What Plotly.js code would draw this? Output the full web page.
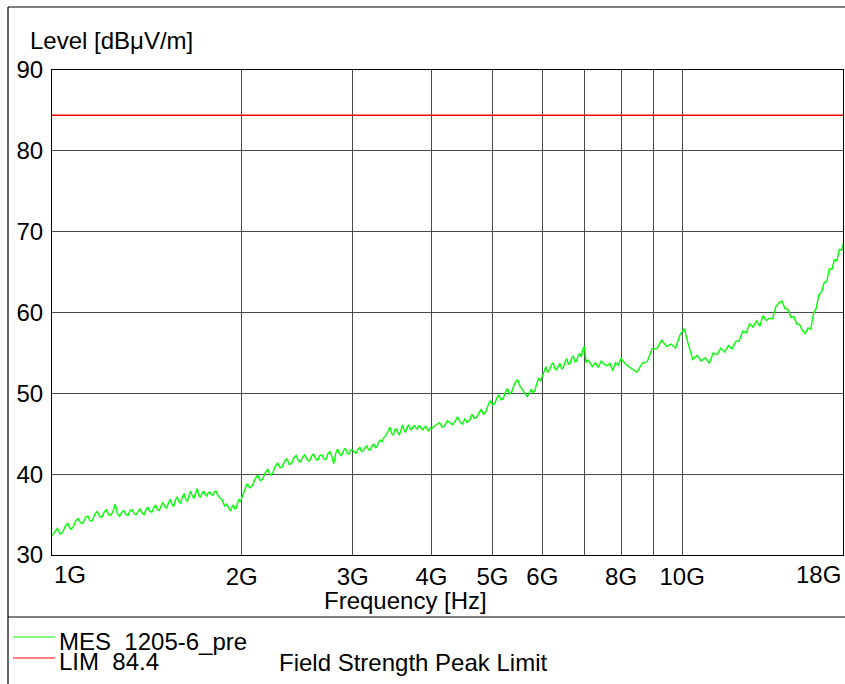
<!DOCTYPE html>
<html>
<head>
<meta charset="utf-8">
<script src="https://cdn.plot.ly/plotly-3.0.1.min.js"></script>
<style>
  html, body { margin: 0; padding: 0; background: #fff; }
  #chart { width: 845px; height: 684px; }
</style>
</head>
<body>
<div id="chart"></div>
<script>
// ---- Data (frequency in MHz, level in dBµV/m) ----
const freqBand1 = [
  1000,1010,1020,1030,1040,1050,1060,1070,1080,1090,
  1100,1110,1120,1130,1140,1150,1160,1170,1180,1190,
  1200,1210,1220,1230,1240,1250,1260,1270,1280,1290,
  1300,1310,1320,1330,1340,1350,1360,1370,1380,1390,
  1400,1410,1420,1430,1440,1450,1460,1470,1480,1490,
  1500,1510,1520,1530,1540,1550,1560,1570,1580,1590,
  1600,1610,1620,1630,1640,1650,1660,1670,1680,1690,
  1700,1710,1720,1730,1740,1750,1760,1770,1780,1790,
  1800,1810,1820,1830,1840,1850,1860,1870,1880,1890,
  1900,1910,1920,1930,1940,1950,1960,1970,1980,1990,
  2000
];
const levelBand1 = [
  32.4,32.9,33.3,32.6,32.8,33.6,33.9,33.2,33.4,34.2,
  34.5,34.0,33.9,34.7,34.8,34.2,34.3,35.1,35.4,34.8,
  34.7,35.3,35.6,35.0,34.9,35.4,36.3,35.1,34.8,35.3,
  35.5,35.0,34.9,35.5,35.6,35.1,35.0,35.4,35.7,35.2,
  35.0,35.6,35.9,35.4,35.3,35.8,36.2,35.6,35.5,36.1,
  36.5,36.0,35.8,36.4,36.9,36.3,36.0,36.8,37.2,36.6,
  36.4,37.1,37.6,36.9,36.6,37.4,37.9,37.3,37.0,37.6,
  38.2,37.4,37.1,37.6,37.9,37.5,37.3,37.7,37.8,37.5,
  37.4,37.8,37.9,37.5,37.2,37.0,36.9,36.4,36.0,36.3,
  36.1,35.7,35.5,35.9,36.2,35.7,35.8,36.4,36.9,36.6,
  37.0
];
const freqBand2 = [
  2020,2040,2060,2080,2100,2120,2140,2160,2180,2200,
  2220,2240,2260,2280,2300,2320,2340,2360,2380,2400,
  2420,2440,2460,2480,2500,2520,2540,2560,2580,2600,
  2620,2640,2660,2680,2700,2720,2740,2760,2780,2800,
  2820,2840,2860,2880,2900,2920,2940,2960,2980,3000,
  3020,3040,3060,3080,3100,3120,3140,3160,3180,3200,
  3220,3240,3260,3280,3300,3320,3340,3360,3380,3400,
  3420,3440,3460,3480,3500,3520,3540,3560,3580,3600,
  3620,3640,3660,3680,3700,3720,3740,3760,3780,3800,
  3820,3840,3860,3880,3900,3920,3940,3960,3980,4000
];
const levelBand2 = [
  38.0,38.8,38.3,38.6,39.4,39.9,39.2,39.4,40.2,40.6,
  39.9,40.1,40.9,41.4,40.8,40.9,41.6,41.9,41.2,41.3,
  42.0,42.3,41.7,41.5,42.1,42.4,41.8,41.6,42.2,42.5,
  41.9,41.7,42.3,42.4,41.9,41.8,42.5,42.8,42.2,41.3,
  42.6,43.1,42.5,42.3,42.9,43.2,42.6,42.5,43.0,43.0,
  42.7,42.6,43.1,43.3,42.8,42.9,43.3,43.5,43.0,43.0,
  43.5,43.7,43.3,43.4,44.0,44.2,44.0,44.5,44.7,45.0,
  45.4,45.8,45.0,44.8,45.5,45.6,45.1,44.9,45.4,46.1,
  45.4,45.2,45.8,46.1,45.6,45.5,45.9,46.0,45.7,45.6,
  46.0,45.9,45.6,45.5,45.8,45.9,45.6,45.3,45.7,45.6
];
const freqBand3 = [
  4040,4080,4120,4160,4200,4240,4280,4320,4360,4400,
  4440,4480,4520,4560,4600,4640,4680,4720,4760,4800,
  4840,4880,4920,4960,5000,5040,5080,5120,5160,5200,
  5240,5280,5320,5360,5400,5440,5480,5520,5560,5600,
  5640,5680,5720,5760,5800,5840,5880,5920,5960,6000,
  6040,6080,6120,6160,6200,6240,6280,6320,6360,6400,
  6440,6480,6520,6560,6600,6640,6680,6720,6760,6800,
  6840,6880,6920,6960,7000,7040,7080,7120,7160,7200,
  7280,7360,7440,7520,7600,7680,7760,7840,7920,8000
];
const levelBand3 = [
  45.9,46.2,46.4,45.8,46.0,46.6,46.3,46.1,46.5,47.1,
  46.5,46.2,46.8,46.4,46.7,47.4,46.9,47.0,47.6,48.0,
  47.4,47.7,48.5,49.1,48.6,48.7,49.4,49.8,49.2,49.3,
  50.1,50.6,49.9,50.1,50.8,51.4,51.7,51.0,50.6,50.2,
  49.9,49.6,50.0,50.5,50.1,50.4,51.2,51.9,51.5,52.0,
  52.7,53.3,52.6,52.9,53.5,53.8,53.1,52.9,53.4,53.7,
  53.0,53.2,53.9,54.3,53.6,53.7,54.4,54.6,53.9,54.0,
  54.7,54.9,54.5,55.5,55.8,53.8,54.1,54.0,53.6,53.3,
  53.8,53.2,54.0,53.6,53.4,53.7,52.8,53.8,53.5,54.3
];
const freqBand4 = [
  8160,8320,8480,8640,8800,8960,9120,9280,9440,9600,
  9760,9920,10080,10240,10400,10560,10720,10880,11040,11200,
  11360,11520,11680,11840,12000,12160,12320,12480,12640,12800,
  12960,13120,13280,13440,13600,13760,13920,14080,14240,14400,
  14560,14720,14880,15040,15200,15360,15520,15680,15840,16000,
  16160,16320,16480,16640,16800,16960,17120,17280,17440,17600,
  17760,17920,18000
];
const levelBand4 = [
  53.5,53.0,52.6,53.7,53.9,55.5,55.5,56.6,55.8,56.1,
  55.6,57.2,58.0,55.9,54.2,54.7,54.0,54.4,53.7,55.0,
  54.8,55.6,55.1,55.9,55.5,56.4,56.5,57.7,57.5,58.6,
  58.2,59.0,58.3,59.6,59.0,59.3,59.2,60.7,61.2,61.4,
  60.5,60.4,59.4,59.5,58.6,58.5,57.8,57.4,58.1,57.9,
  59.9,60.5,62.2,62.5,63.7,63.8,65.4,65.3,66.5,66.4,
  67.8,67.7,68.5
];
const limFreqMHz = [1000, 18000];
const limLevel = [84.4, 84.4];

const xTickVals = [1, 2, 3, 4, 5, 6, 7, 8, 9, 10, 18];
const xTickText = ['', '2G', '3G', '4G', '5G', '6G', '', '8G', '', '10G', ''];
const yTickVals = [30, 40, 50, 60, 70, 80, 90];

const legendNames = ['MES\u00a0 1205-6_pre', 'LIM\u00a0 84.4'];
const limitDescription = 'Field Strength Peak Limit';
const yTitle = 'Level [dBμV/m]';
const xTitle = 'Frequency [Hz]';

const mesFreqMHz = [].concat(freqBand1, freqBand2, freqBand3, freqBand4);
const mesLevel = [].concat(levelBand1, levelBand2, levelBand3, levelBand4);

// ---- Layout helpers (pixel -> paper) ----
const L = 52, R = 843, T = 70, B = 555;
const W = 845, H = 684;
const PX = x => (x - L) / (R - L);
const PY = y => (B - y) / (B - T);

const FONT = 'Liberation Sans, Arial, sans-serif';
const FS = 24;

const traces = [
  {
    x: mesFreqMHz.map(f => f / 1000), y: mesLevel,
    type: 'scatter', mode: 'lines',
    line: { color: '#00ff00', width: 1.4 },
    hoverinfo: 'skip', showlegend: false
  },
  {
    x: limFreqMHz.map(f => f / 1000), y: limLevel,
    type: 'scatter', mode: 'lines',
    line: { color: '#ff0000', width: 1.3 },
    hoverinfo: 'skip', showlegend: false
  }
];

const layout = {
  width: W, height: H,
  margin: { l: L, r: W - R, t: T, b: H - B, pad: 0 },
  paper_bgcolor: '#ffffff', plot_bgcolor: '#ffffff',
  font: { family: FONT, size: FS, color: '#000' },
  showlegend: false,
  xaxis: {
    type: 'log', range: [0, Math.log10(18)],
    tickmode: 'array', tickvals: xTickVals, ticktext: xTickText,
    showgrid: true, gridcolor: '#4a4a4a', gridwidth: 1,
    showline: true, linecolor: '#000', linewidth: 1, mirror: true,
    ticks: '', ticklabelstandoff: 0,
    tickfont: { family: FONT, size: FS, color: '#000' },
    zeroline: false, fixedrange: true
  },
  yaxis: {
    range: [30, 90],
    tickmode: 'array', tickvals: yTickVals,
    showgrid: true, gridcolor: '#4a4a4a', gridwidth: 1,
    showline: true, linecolor: '#000', linewidth: 1, mirror: true,
    ticks: '', ticklabelstandoff: 3,
    tickfont: { family: FONT, size: FS, color: '#000' },
    zeroline: false, fixedrange: true
  },
  annotations: [
    { text: yTitle, xref: 'paper', yref: 'paper', x: PX(28), y: PY(40), xanchor: 'left', yanchor: 'middle', showarrow: false, font: { family: FONT, size: FS } },
    { text: xTitle, xref: 'paper', yref: 'paper', x: PX(405), y: PY(600), xanchor: 'center', yanchor: 'middle', showarrow: false, font: { family: FONT, size: FS } },
    { text: '1G', xref: 'x', yref: 'paper', x: 0, y: PY(574), xanchor: 'left', yanchor: 'middle', showarrow: false, font: { family: FONT, size: FS } },
    { text: '18G', xref: 'x', yref: 'paper', x: Math.log10(18), y: PY(574), xanchor: 'right', yanchor: 'middle', showarrow: false, font: { family: FONT, size: FS } },
    { text: legendNames[0], xref: 'paper', yref: 'paper', x: PX(57), y: PY(641), xanchor: 'left', yanchor: 'middle', showarrow: false, font: { family: FONT, size: FS } },
    { text: legendNames[1], xref: 'paper', yref: 'paper', x: PX(57), y: PY(661), xanchor: 'left', yanchor: 'middle', showarrow: false, font: { family: FONT, size: FS } },
    { text: limitDescription, xref: 'paper', yref: 'paper', x: PX(277), y: PY(662), xanchor: 'left', yanchor: 'middle', showarrow: false, font: { family: FONT, size: FS } }
  ],
  shapes: [
    // outer frame
    { type: 'line', xref: 'paper', yref: 'paper', x0: PX(8), x1: PX(8), y0: PY(7), y1: PY(H), line: { color: '#000', width: 1.2 } },
    { type: 'line', xref: 'paper', yref: 'paper', x0: PX(8), x1: PX(W), y0: PY(7), y1: PY(7), line: { color: '#000', width: 1.2 } },
    { type: 'line', xref: 'paper', yref: 'paper', x0: PX(8), x1: PX(W), y0: PY(617), y1: PY(617), line: { color: '#000', width: 1.2 } },
    // legend samples
    { type: 'line', xref: 'paper', yref: 'paper', x0: PX(13), x1: PX(55), y0: PY(637), y1: PY(637), line: { color: '#00ff00', width: 1 } },
    { type: 'line', xref: 'paper', yref: 'paper', x0: PX(13), x1: PX(55), y0: PY(658), y1: PY(658), line: { color: '#ff0000', width: 1 } }
  ]
};

Plotly.newPlot('chart', traces, layout, { staticPlot: true, displayModeBar: false });
</script>
</body>
</html>
